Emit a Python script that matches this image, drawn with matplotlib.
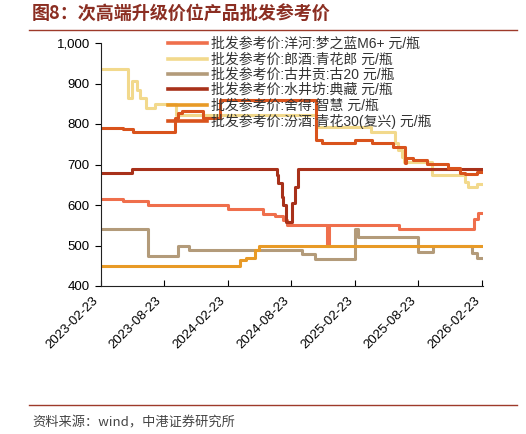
import matplotlib
matplotlib.use("Agg")
import matplotlib.pyplot as plt
import matplotlib.dates as mdates
import matplotlib.ticker as mticker
from matplotlib.lines import Line2D
import pandas as pd

plt.rcParams["font.family"] = ["Liberation Sans", "Noto Sans CJK SC", "DejaVu Sans"]

# weekly wholesale reference prices, yuan/bottle (step series: date where a new price starts)
yanghe_dates = ["2023-02-23", "2023-04-27", "2023-07-08", "2024-02-23", "2024-06-03", "2024-07-08",
                "2024-07-31", "2024-08-11", "2024-12-05", "2024-12-08", "2025-06-29", "2026-01-31",
                "2026-02-12", "2026-02-26"]
yanghe_vals = [615, 610, 600, 590, 578, 572, 562, 550, 500, 550, 540, 565, 580, 580]

langjiu_dates = ["2023-02-23", "2023-05-12", "2023-05-23", "2023-06-07", "2023-06-15", "2023-07-02",
                 "2023-07-28", "2023-09-27", "2024-11-02", "2025-04-10", "2025-06-18", "2025-06-27",
                 "2025-07-08", "2025-07-14", "2025-10-02", "2026-01-05", "2026-01-14", "2026-02-09",
                 "2026-02-26"]
langjiu_vals = [935, 865, 905, 885, 865, 840, 850, 822, 792, 781, 752, 736, 719, 707, 674, 657, 645,
                651, 651]

gujing_dates = ["2023-02-23", "2023-07-08", "2023-10-03", "2023-11-03", "2024-09-23", "2024-10-31",
                "2025-02-23", "2025-03-03", "2025-08-23", "2025-10-05", "2026-01-25", "2026-02-09",
                "2026-02-26"]
gujing_vals = [540, 475, 500, 490, 478, 466, 540, 520, 484, 500, 481, 470, 470]

shuijing_dates = ["2023-02-23", "2023-05-23", "2024-07-08", "2024-07-14", "2024-07-17", "2024-07-28",
                  "2024-07-31", "2024-08-08", "2024-08-25", "2024-09-03", "2024-09-12", "2026-02-26"]
shuijing_vals = [680, 690, 690, 674, 654, 620, 600, 558, 604, 645, 690, 690]

shede_dates = ["2023-02-23", "2024-03-29", "2024-04-15", "2024-05-11", "2024-05-23", "2026-02-26"]
shede_vals = [450, 465, 470, 490, 500, 500]

fenjiu_dates = ["2023-02-23", "2023-04-27", "2023-05-26", "2023-09-24", "2023-10-03", "2023-10-14",
                "2023-12-13", "2024-01-31", "2024-11-02", "2024-11-20", "2025-02-23", "2025-04-13",
                "2025-06-12", "2025-07-16", "2025-07-19", "2025-08-08", "2025-09-18", "2025-11-17",
                "2025-12-22", "2026-01-05", "2026-02-09", "2026-02-26"]
fenjiu_vals = [790, 787, 780, 815, 827, 831, 815, 860, 760, 752, 760, 754, 743, 703, 716, 710, 701,
               691, 680, 676, 681, 681]

labels = ["批发参考价:洋河:梦之蓝M6+ 元/瓶", "批发参考价:郎酒:青花郎 元/瓶", "批发参考价:古井贡:古20 元/瓶",
          "批发参考价:水井坊:典藏 元/瓶", "批发参考价:舍得:智慧 元/瓶", "批发参考价:汾酒:青花30(复兴) 元/瓶"]
colors = ["#EF6F4C", "#F2D98C", "#B39B7A", "#A8311A", "#E89A26", "#D9531C"]
tick_dates = ["2023-02-23", "2023-08-23", "2024-02-23", "2024-08-23", "2025-02-23", "2025-08-23",
              "2026-02-23"]

series = [(yanghe_dates, yanghe_vals), (langjiu_dates, langjiu_vals), (gujing_dates, gujing_vals),
          (shuijing_dates, shuijing_vals), (shede_dates, shede_vals), (fenjiu_dates, fenjiu_vals)]

fig = plt.figure(figsize=(5.26, 4.34), dpi=100)
ax = fig.add_axes([101 / 526, 1 - 286 / 434, 382 / 526, 243 / 434])

for (d, v), lab, c in zip(series, labels, colors):
    ax.plot(pd.to_datetime(d), v, drawstyle="steps-post", color=c, lw=2.2, label=lab)

ax.set_ylim(400, 1000)
ax.set_xlim(pd.Timestamp("2023-02-23"), pd.Timestamp("2026-02-25"))
ax.yaxis.set_major_locator(mticker.MultipleLocator(100))
ax.yaxis.set_major_formatter(mticker.StrMethodFormatter("{x:,.0f}"))
ax.set_xticks(pd.to_datetime(tick_dates))
ax.xaxis.set_major_formatter(mdates.DateFormatter("%Y-%m-%d"))
for s in ["top", "right"]:
    ax.spines[s].set_visible(False)
for s in ["left", "bottom"]:
    ax.spines[s].set_linewidth(0.8)
    ax.spines[s].set_color("#222222")
ax.tick_params(axis="y", direction="out", length=4, width=0.8, labelsize=9.5, pad=4)
ax.tick_params(axis="x", direction="in", length=4, width=0.8, labelsize=9.5, pad=6)
plt.setp(ax.get_xticklabels(), rotation=45, ha="right")

leg = ax.legend(loc="upper left", bbox_to_anchor=(168 / 526, 1 - 37 / 434),
                bbox_transform=fig.transFigure, frameon=False, fontsize=10,
                labelspacing=0.1, handlelength=2.8, handletextpad=0.3,
                borderpad=0, borderaxespad=0)
for t in leg.get_texts():
    t.set_color("#333333")
for h in leg.get_lines():
    h.set_linewidth(2.6)

fig.text(32 / 526, 1 - 14 / 434, "图8：次高端升级价位产品批发参考价", fontsize=13, fontweight="bold",
         color="#8B2E22", va="center", ha="left", family=["Noto Sans CJK SC", "DejaVu Sans"])
fig.add_artist(Line2D([29 / 526, 517 / 526], [1 - 30 / 434] * 2, color="#9E3A2A", lw=1))
fig.add_artist(Line2D([29 / 526, 517 / 526], [1 - 405 / 434] * 2, color="#9E3A2A", lw=1))
fig.text(32 / 526, 1 - 423 / 434, "资料来源：wind，中港证券研究所", fontsize=9.5, style="italic",
         color="#444444", va="center", ha="left", family=["Noto Sans CJK SC", "DejaVu Sans"])

fig.savefig("out.png", dpi=100)
